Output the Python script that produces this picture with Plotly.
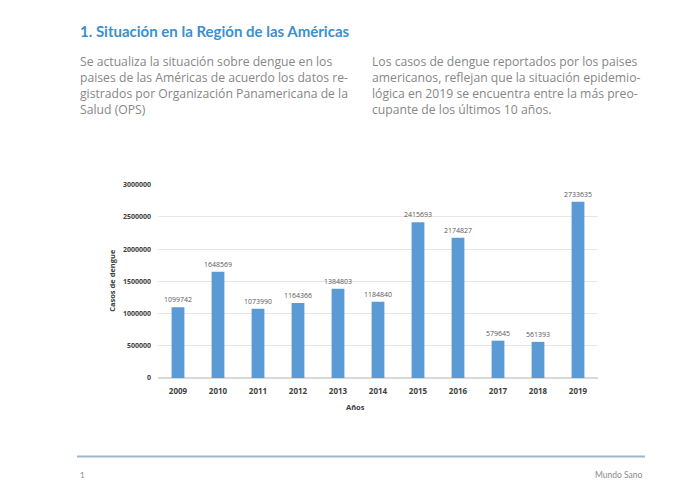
import plotly.graph_objects as go

years = ["2009", "2010", "2011", "2012", "2013", "2014", "2015", "2016", "2017", "2018", "2019"]
cases = [1099742, 1648569, 1073990, 1164366, 1384803, 1184840, 2415693, 2174827, 579645, 561393, 2733635]
y_ticks = [0, 500000, 1000000, 1500000, 2000000, 2500000, 3000000]

title_text = "1. Situación en la Región de las Américas"
left_lines = [
    "Se actualiza la situación sobre dengue en los",
    "paises de las Américas de acuerdo los datos re-",
    "gistrados por Organización Panamericana de la",
    "Salud (OPS)",
]
right_lines = [
    "Los casos de dengue reportados por los paises",
    "americanos, reflejan que la situación epidemio-",
    "lógica en 2019 se encuentra entre la más preo-",
    "cupante de los últimos 10 años.",
]

W, H = 696, 491
def px(x):
    return x / W
def py(y):
    return 1 - y / H

fig = go.Figure()
fig.add_trace(go.Bar(
    x=years, y=cases,
    marker=dict(color="#5b9bd5", line=dict(width=0)),
    text=[str(v) for v in cases], textposition="outside",
    textfont=dict(size=7, color="#595959", family="Open Sans"),
    constraintext="none",
    cliponaxis=False,
))

fig.update_layout(
    width=W, height=H,
    margin=dict(l=0, r=0, t=0, b=0),
    paper_bgcolor="white", plot_bgcolor="white",
    showlegend=False, bargap=0.68,
    font=dict(family="Open Sans"),
    xaxis=dict(domain=[px(158), px(598)], showgrid=False, showline=False,
               ticks="", tickfont=dict(size=8, color="#404040", family="Open Sans"),
               tickprefix="<b>", ticksuffix="</b>", ticklabelstandoff=7, fixedrange=True),
    yaxis=dict(domain=[py(380), py(183)], range=[0, 3000000],
               tickvals=y_ticks, ticktext=["<b>%d</b>" % v for v in y_ticks],
               tickfont=dict(size=7, color="#404040", family="Open Sans"),
               gridcolor="#e6e6e6", gridwidth=1, zeroline=True, zerolinecolor="#d9d9d9",
               showline=False, ticks="", ticklabelstandoff=6),
)

ann = []
ann.append(dict(text="<b>" + title_text + "</b>", x=px(78), y=py(26), xref="paper", yref="paper",
                xanchor="left", yanchor="middle", showarrow=False,
                font=dict(size=15, color="#3d8fcc", family="Lato")))
para_font = dict(size=12.2, color="#878787", family="Open Sans")
ann.append(dict(text="<br>".join(left_lines), x=px(78), y=py(81.5), xref="paper", yref="paper",
                xanchor="left", yanchor="middle", align="left", showarrow=False,
                font=para_font))
ann.append(dict(text="<br>".join(right_lines), x=px(370), y=py(81.5), xref="paper", yref="paper",
                xanchor="left", yanchor="middle", align="left", showarrow=False,
                font=para_font))
ann.append(dict(text="<b>Casos de dengue</b>", x=px(112), y=py(281), xref="paper", yref="paper",
                textangle=-90, showarrow=False, xanchor="center", yanchor="middle",
                font=dict(size=7.5, color="#404040", family="Open Sans")))
ann.append(dict(text="<b>Años</b>", x=px(355), y=py(409), xref="paper", yref="paper",
                showarrow=False, xanchor="center", yanchor="middle",
                font=dict(size=7.5, color="#404040", family="Open Sans")))
ann.append(dict(text="1", x=px(78), y=py(479), xref="paper", yref="paper",
                showarrow=False, xanchor="left", yanchor="middle",
                font=dict(size=8, color="#8a8a8a", family="Lato")))
ann.append(dict(text="Mundo Sano", x=px(645), y=py(479), xref="paper", yref="paper",
                showarrow=False, xanchor="right", yanchor="middle",
                font=dict(size=8.5, color="#8a8a8a", family="Lato")))
fig.update_layout(annotations=ann)

fig.add_shape(type="line", xref="paper", yref="paper",
              x0=px(77), x1=px(645), y0=py(460), y1=py(460),
              line=dict(color="#9db7d0", width=2))

fig.write_html("out.html")
